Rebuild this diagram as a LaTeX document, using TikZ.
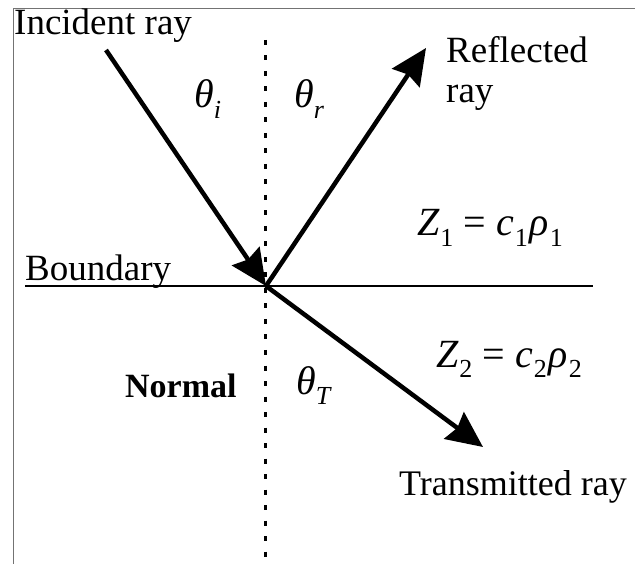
\documentclass[tikz,border=0pt]{standalone}
\usepackage{fontspec}
\setmainfont{Liberation Serif}
\usetikzlibrary{arrows.meta}
\newcommand{\lowsub}[1]{\raisebox{-0.26em}{\fontsize{26}{26}\selectfont #1}}
\begin{document}
\begin{tikzpicture}[x=1pt,y=-1pt,
  ray/.style={line width=4.5pt, -{Stealth[length=36pt,width=33pt,inset=4pt]}},
  frameline/.style={line width=1pt, black!55},
  normalline/.style={line width=3pt, dash pattern=on 5pt off 10.5pt},
  boundline/.style={line width=2.5pt},
  lbl/.style={inner sep=0pt, anchor=base west, font=\fontsize{37}{40}\selectfont},
  mathlbl/.style={inner sep=0pt, anchor=base west, font=\fontsize{40}{44}\selectfont\itshape},
  boldlbl/.style={inner sep=0pt, anchor=base west, font=\fontsize{34}{36}\selectfont\bfseries}
]
\useasboundingbox (0,0) rectangle (635,564);
% frame
\coordinate (fbl) at (13,564);
\coordinate (ftl) at (13,9);
\coordinate (ftr) at (635,9);
\draw[frameline] (fbl) -- (ftl) -- (ftr);
% boundary and normal
\coordinate (bL) at (25,286);
\coordinate (bR) at (593,286);
\draw[boundline] (bL) -- (bR);
\coordinate (nT) at (265,40);
\coordinate (nB) at (265,564);
\draw[normalline] (nT) -- (nB);
% rays
\coordinate (O) at (266,286);
\coordinate (I) at (106,50);
\coordinate (R) at (426,48);
\coordinate (T) at (483,447);
\draw[ray] (I) -- (O);
\draw[ray] (O) -- (R);
\draw[ray] (O) -- (T);
% labels
\node[lbl] (incident) at (14,35) {Incident ray};
\node[lbl] (reflected) at (446,63) {Reflected};
\node[lbl] (reflray) at (446,103) {ray};
\node[lbl] (boundary) at (25,281) {Boundary};
\node[lbl, font=\fontsize{36}{40}\selectfont] (transmitted) at (399,495) {Transmitted ray};
\node[boldlbl] (normal) at (125,397) {Normal};
\node[mathlbl] (thi) at (194,108) {θ\lowsub{i}};
\node[mathlbl] (thr) at (294,108) {θ\lowsub{r}};
\node[mathlbl] (tht) at (296,394) {θ\lowsub{T}};
\node[mathlbl] (z1) at (417,236) {Z\kern1pt\lowsub{\upshape 1} \upshape= \itshape c\kern1pt\lowsub{\upshape 1}\kern2pt ρ\kern1pt\lowsub{\upshape 1}};
\node[mathlbl] (z2) at (436,367) {Z\kern1pt\lowsub{\upshape 2} \upshape= \itshape c\kern1pt\lowsub{\upshape 2}\kern2pt ρ\kern1pt\lowsub{\upshape 2}};
\end{tikzpicture}
\end{document}
